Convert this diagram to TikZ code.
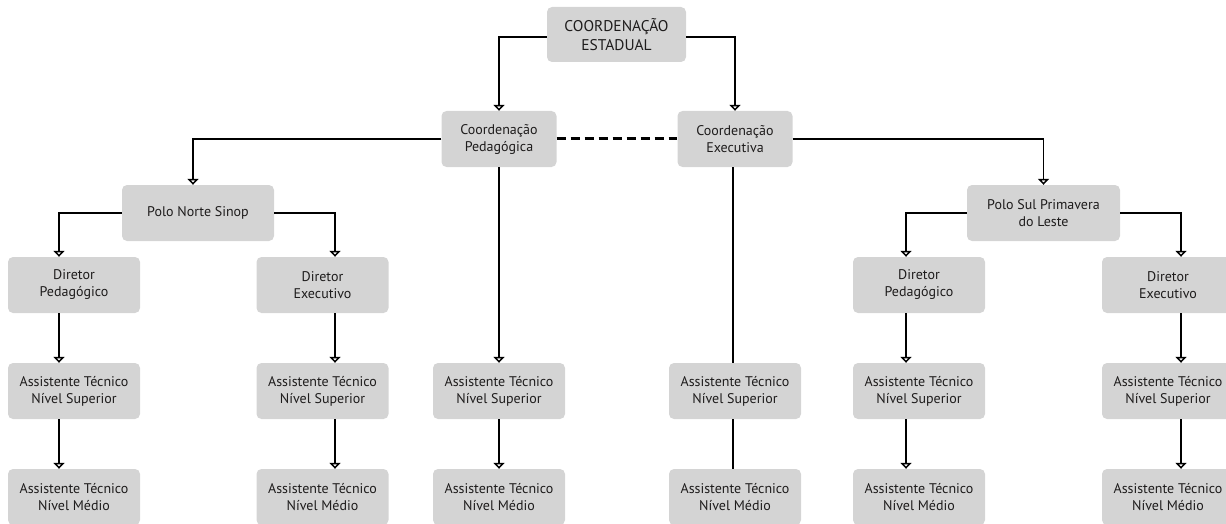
\documentclass[tikz,border=0pt]{standalone}
\usepackage{fontspec}
\setmainfont{PT Sans}
\usetikzlibrary{arrows.meta}
\definecolor{boxgray}{RGB}{212,212,212}
\definecolor{txt}{RGB}{30,28,28}
\tikzset{
  box/.style={fill=boxgray, rounded corners=5pt, minimum height=56pt, minimum width=132pt,
    inner sep=0pt, align=center, text=txt, font=\fontsize{14}{17}\selectfont},
  conn/.style={line width=1.7pt, draw=black},
  arr/.style={conn, -{Triangle[open,width=11pt,length=6pt,line width=1.5pt]}},
  dash line/.style={line width=3pt, dash pattern=on 9pt off 5pt}
}
\begin{document}
\begin{tikzpicture}[x=1pt,y=-1pt]
\path[use as bounding box, clip] (0,0) rectangle (1226,524);
% column line positions
\coordinate (x1) at (59,0);
\coordinate (x2) at (335,0);
\coordinate (x5) at (906,0);
\coordinate (x6) at (1181,0);
% nodes
\node[box, minimum width=139pt, minimum height=55pt, font=\fontsize{15.5}{19}\selectfont] (est) at (616.5,34.5) {COORDENAÇÃO\\ESTADUAL};
\node[box, minimum width=115pt] (cp) at (499,139) {Coordenação\\Pedagógica};
\node[box, minimum width=115pt] (ce) at (735,139) {Coordenação\\Executiva};
\node[box, minimum width=152pt] (pn) at (198,213) {Polo Norte Sinop};
\node[box, minimum width=153pt] (ps) at (1043.5,213) {Polo Sul Primavera\\do Leste};
\node[box] (dp1) at (74,285) {Diretor\\Pedagógico};
\node[box] (de1) at (322.5,285) {Diretor\\Executivo};
\node[box] (dp2) at (919,285) {Diretor\\Pedagógico};
\node[box] (de2) at (1168,285) {Diretor\\Executivo};
\foreach \n/\x in {1/74,2/322.5,3/499,4/735,5/919,6/1168}{
  \node[box] (as\n) at (\x,391) {Assistente Técnico\\Nível Superior};
  \node[box] (am\n) at (\x,497) {Assistente Técnico\\Nível Médio};
}
% connectors
\draw[arr] ([yshift=-2.5pt]est.west) -| (cp.north);
\draw[arr] ([yshift=-2.5pt]est.east) -| (ce.north);
\draw[conn, dash line] (cp.east) -- (ce.west);
\draw[arr] (cp.west) -| ([xshift=-5pt]pn.north);
\draw[arr] (ce.east) -| (ps.north);
\draw[arr] (pn.west) -| (dp1.north -| x1);
\draw[arr] (pn.east) -| (de1.north -| x2);
\draw[arr] (ps.west) -| (dp2.north -| x5);
\draw[arr] (ps.east) -| (de2.north -| x6);
\draw[arr] (dp1.south -| x1) -- (as1.north -| x1);
\draw[arr] (as1.south -| x1) -- (am1.north -| x1);
\draw[arr] (de1.south -| x2) -- (as2.north -| x2);
\draw[arr] (as2.south -| x2) -- (am2.north -| x2);
\draw[arr] (cp.south) -- (as3.north);
\draw[arr] (as3.south) -- (am3.north);
\draw[conn] ([xshift=-2pt]ce.south) -- ([xshift=-2pt]as4.north);
\draw[conn] ([xshift=-2pt]as4.south) -- ([xshift=-2pt]am4.north);
\draw[arr] (dp2.south -| x5) -- (as5.north -| x5);
\draw[arr] (as5.south -| x5) -- (am5.north -| x5);
\draw[arr] (de2.south -| x6) -- (as6.north -| x6);
\draw[arr] (as6.south -| x6) -- (am6.north -| x6);
\end{tikzpicture}
\end{document}
